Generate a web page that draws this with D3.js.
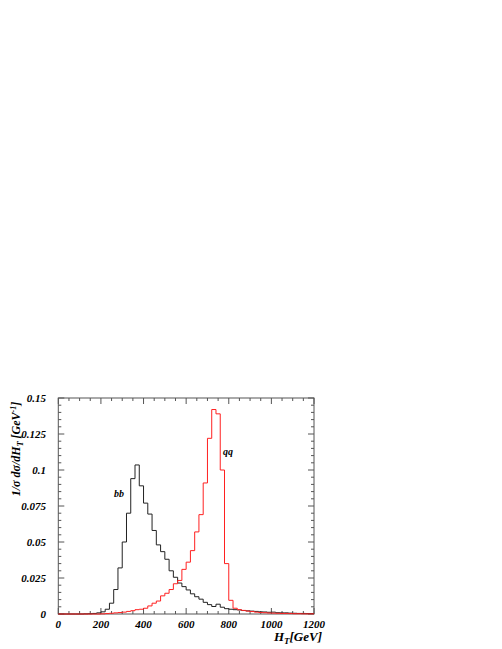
<!DOCTYPE html>
<html>
<head>
<meta charset="utf-8">
<script src="https://cdn.jsdelivr.net/npm/d3@7"></script>
<style>
  body { margin: 0; background: #fff; }
  text { font-family: "Liberation Serif", "Times New Roman", serif; font-weight: bold; font-style: italic; }
</style>
</head>
<body>
<div id="chart"></div>
<script>
// histogram bins, 20 GeV wide
var binStarts = d3.range(0, 1200, 20);

var bbValues = [
  0, 0, 0, 0, 0, 0, 0.0001, 0.0002, 0.0004, 0.0008,
  0.0015, 0.0033, 0.0075, 0.017, 0.032, 0.050, 0.070, 0.094, 0.1035, 0.089,
  0.077, 0.0694, 0.058, 0.048, 0.0433, 0.038, 0.030, 0.0255, 0.0215, 0.019,
  0.0167, 0.014, 0.012, 0.0103, 0.0081, 0.0065, 0.0052, 0.0068, 0.0047, 0.0037,
  0.0033, 0.003, 0.0028, 0.0024, 0.0022, 0.002, 0.0018, 0.0015, 0.0014, 0.0012,
  0.0013, 0.0009, 0.0008, 0.0008, 0.0006, 0.0005, 0.0004, 0.0004, 0.0003, 0.0003
];

var qqValues = [
  0, 0, 0, 0, 0, 0, 0, 0, 0, 0,
  0.0001, 0.0003, 0.0005, 0.0008, 0.001, 0.0013, 0.0018, 0.0023, 0.003, 0.0033,
  0.004, 0.0056, 0.0075, 0.009, 0.0126, 0.0144, 0.017, 0.021, 0.0233, 0.031,
  0.036, 0.044, 0.057, 0.069, 0.091, 0.122, 0.142, 0.139, 0.1, 0.035,
  0.0095, 0.004, 0.003, 0.0025, 0.002, 0.0017, 0.0013, 0.001, 0.0009, 0.0007,
  0.0006, 0.0005, 0.0004, 0.0004, 0.0003, 0.0002, 0.0002, 0.0001, 0.0001, 0.0001
];

var xTicks = [0, 200, 400, 600, 800, 1000, 1200];
var yTicks = [0, 0.025, 0.05, 0.075, 0.1, 0.125, 0.15];
var yTickLabels = ["0", "0.025", "0.05", "0.075", "0.1", "0.125", "0.15"];

var svgWidth = 502, svgHeight = 649;
var plotLeft = 58.3, plotRight = 314, plotTop = 398, plotBottom = 614;

var svg = d3.select("#chart")
  .append("svg")
  .attr("width", svgWidth)
  .attr("height", svgHeight);

var x = d3.scaleLinear().domain([0, 1200]).range([plotLeft, plotRight]);
var y = d3.scaleLinear().domain([0, 0.15]).range([plotBottom, plotTop]);

// minor ticks
var xMinor = d3.range(0, 1201, 50);
var yMinor = d3.range(0, 31).map(function(i) { return i * 0.005; });

var frameColor = "#555";

svg.append("rect")
  .attr("x", plotLeft).attr("y", plotTop)
  .attr("width", plotRight - plotLeft).attr("height", plotBottom - plotTop)
  .attr("fill", "none").attr("stroke", frameColor).attr("stroke-width", 1);

// ticks on all four sides, pointing inward
xMinor.forEach(function(v) {
  var major = xTicks.indexOf(v) >= 0;
  var len = major ? 6 : 3;
  svg.append("line").attr("x1", x(v)).attr("x2", x(v))
    .attr("y1", plotBottom).attr("y2", plotBottom - len)
    .attr("stroke", frameColor);
  svg.append("line").attr("x1", x(v)).attr("x2", x(v))
    .attr("y1", plotTop).attr("y2", plotTop + len)
    .attr("stroke", frameColor);
});
yMinor.forEach(function(v, i) {
  var major = i % 5 == 0;
  var len = major ? 6 : 3;
  svg.append("line").attr("x1", plotLeft).attr("x2", plotLeft + len)
    .attr("y1", y(v)).attr("y2", y(v))
    .attr("stroke", frameColor);
  svg.append("line").attr("x1", plotRight).attr("x2", plotRight - len)
    .attr("y1", y(v)).attr("y2", y(v))
    .attr("stroke", frameColor);
});

// tick labels
svg.selectAll(".xlab")
  .data(xTicks)
  .enter()
  .append("text")
  .attr("x", function(d) { return x(d); })
  .attr("y", 628)
  .attr("text-anchor", "middle")
  .attr("font-size", 11)
  .text(function(d) { return d; });

svg.selectAll(".ylab")
  .data(yTicks)
  .enter()
  .append("text")
  .attr("x", 46)
  .attr("y", function(d) { return y(d) + 4; })
  .attr("text-anchor", "end")
  .attr("font-size", 11)
  .text(function(d, i) { return yTickLabels[i]; });

// histograms as steps
function stepPoints(values) {
  var pts = binStarts.map(function(b, i) { return [b, values[i]]; });
  pts.push([1200, values[values.length - 1]]);
  return pts;
}

var line = d3.line()
  .x(function(d) { return x(d[0]); })
  .y(function(d) { return y(d[1]); })
  .curve(d3.curveStepAfter);

svg.append("path")
  .attr("d", line(stepPoints(bbValues)))
  .attr("fill", "none")
  .attr("stroke", "#222")
  .attr("stroke-width", 1);

svg.append("path")
  .attr("d", line(stepPoints(qqValues)))
  .attr("fill", "none")
  .attr("stroke", "#ff2020")
  .attr("stroke-width", 1);

// curve labels
svg.append("text").attr("x", 114).attr("y", 497).attr("font-size", 10).text("bb");
svg.append("text").attr("x", 223).attr("y", 455).attr("font-size", 10).text("qq");

// x title
var xt = svg.append("text").attr("x", 322).attr("y", 641)
  .attr("text-anchor", "end").attr("font-size", 13);
xt.append("tspan").text("H");
xt.append("tspan").attr("dy", 3).attr("font-size", 9).text("T");
xt.append("tspan").attr("dy", -3).text("[GeV]");

// y title
var yt = svg.append("text")
  .attr("transform", "translate(20,449) rotate(-90)")
  .attr("text-anchor", "middle")
  .attr("font-size", 12);
yt.append("tspan").text("1/σ dσ/dH");
yt.append("tspan").attr("dy", 3).attr("font-size", 8).text("T");
yt.append("tspan").attr("dy", -3).text(" [GeV");
yt.append("tspan").attr("dy", -4).attr("font-size", 8).text("-1");
yt.append("tspan").attr("dy", 4).text("]");
</script>
</body>
</html>
